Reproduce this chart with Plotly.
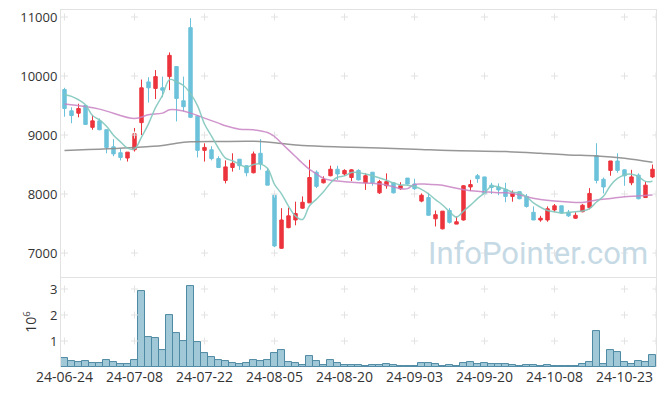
import plotly.graph_objects as go
from plotly.subplots import make_subplots
import pandas as pd

dates = ["24-06-24","24-06-25","24-06-26","24-06-27","24-06-28","24-07-01","24-07-02","24-07-03","24-07-04","24-07-05",
         "24-07-08","24-07-09","24-07-10","24-07-11","24-07-12","24-07-15","24-07-16","24-07-17","24-07-18","24-07-19",
         "24-07-22","24-07-23","24-07-24","24-07-25","24-07-26","24-07-29","24-07-30","24-07-31","24-08-01","24-08-02",
         "24-08-05","24-08-06","24-08-07","24-08-08","24-08-09","24-08-12","24-08-13","24-08-14","24-08-16","24-08-19",
         "24-08-20","24-08-21","24-08-22","24-08-23","24-08-26","24-08-27","24-08-28","24-08-29","24-08-30","24-09-02",
         "24-09-03","24-09-04","24-09-05","24-09-06","24-09-09","24-09-10","24-09-11","24-09-12","24-09-13","24-09-19",
         "24-09-20","24-09-23","24-09-24","24-09-25","24-09-26","24-09-27","24-09-30","24-10-02","24-10-04","24-10-07",
         "24-10-08","24-10-10","24-10-11","24-10-14","24-10-15","24-10-16","24-10-17","24-10-18","24-10-21","24-10-22",
         "24-10-23","24-10-24","24-10-25","24-10-28","24-10-29"]

opens = [9770,9410,9370,9500,9130,9240,9090,8800,8700,8610,
         8750,9210,9900,9790,9800,9990,10160,9580,10820,9320,
         8740,8750,8600,8230,8450,8590,8480,8360,8690,8390,
         7980,7080,7430,7560,7760,7850,8370,8190,8310,8420,
         8340,8280,8400,8190,8370,8020,8140,8190,8090,8270,
         8170,7880,7940,7580,7410,7720,7490,7560,8120,8310,
         8290,8150,8120,8080,7960,8040,7960,7690,7560,7560,
         7730,7800,7690,7590,7700,7770,8650,8250,8400,8560,
         8410,8190,8320,7940,8290]
highs = [9800,9470,9530,9500,9340,9280,9090,8930,8770,8710,
         9120,9940,9980,10100,9990,10400,10160,9990,10980,9340,
         8860,8810,8640,8570,8690,8590,8480,8720,8930,8440,
         7990,7760,7770,7870,7960,8580,8400,8300,8480,8480,
         8420,8420,8420,8350,8370,8240,8350,8190,8200,8270,
         8260,8010,8020,7720,7710,7760,7620,8150,8240,8340,
         8290,8190,8180,8190,8060,8040,8000,7790,7630,7790,
         7830,7800,7730,7690,7830,8100,8860,8280,8560,8690,
         8420,8410,8350,8210,8500]
lows = [9310,9200,9300,9170,9090,9080,8690,8640,8570,8550,
        8720,9000,9550,9610,9640,9760,9230,9400,9290,8620,
        8550,8570,8440,8180,8380,8410,8300,8350,8410,8150,
        7100,7070,7420,7470,7750,7850,8100,8180,8300,8240,
        8310,8220,8230,8070,8140,8000,8090,8010,8070,8160,
        8070,7860,7630,7450,7400,7500,7490,7550,8050,8190,
        7990,8000,7980,7860,7870,7910,7770,7560,7530,7530,
        7690,7670,7610,7580,7690,7740,8180,8010,8310,8360,
        8140,8150,7910,7940,8270]
closes = [9450,9330,9450,9180,9240,9090,8790,8680,8620,8710,
          9020,9800,9800,9990,9760,10350,9620,9480,9300,8740,
          8790,8600,8450,8460,8520,8480,8360,8680,8510,8150,
          7120,7560,7630,7670,7860,8280,8130,8250,8420,8340,
          8400,8410,8240,8310,8190,8210,8210,8020,8140,8170,
          8090,7980,7640,7650,7710,7520,7530,8140,8160,8260,
          8000,8110,8070,7960,8020,7920,7790,7560,7590,7750,
          7800,7680,7630,7640,7810,8010,8230,8120,8560,8400,
          8310,8290,7920,8150,8420]
volumes_k = [350,240,210,240,170,170,270,210,130,130,
             270,2920,1150,1120,650,2000,1310,1000,3120,960,
             540,380,280,240,170,120,170,270,240,270,
             540,650,210,170,90,420,240,90,270,150,
             60,60,60,30,60,60,100,60,30,30,
             30,140,140,100,30,60,30,140,180,100,
             140,100,100,100,60,30,60,60,30,60,
             30,30,30,30,100,180,1370,100,640,560,
             180,100,220,180,450]

# 5-day MA: first four values, rest from closes
ma5_head = [9683, 9655, 9598, 9513]
# 20-day MA and long MA (index, value)
ma20_idx = [0,5,10,12,14,15,16,18,20,22,23,25,27,29,30,31,32,33,34,35,36,37,38,40,42,44,46,48,49,50,52,54,56,58,60,62,64,66,68,70,72,74,76,78,80,82,84]
ma20_val = [9524,9439,9280,9343,9371,9428,9428,9371,9286,9201,9156,9099,9088,9043,8975,8861,8748,8635,8521,8419,8340,8266,8232,8210,8193,8181,8153,8091,8091,8164,8164,8150,8096,8057,8040,8023,8011,7955,7909,7881,7864,7858,7898,7926,7955,7966,7983]
malong_idx = [0,10,14,16,18,22,28,31,34,41,50,55,63,68,72,76,80,84]
malong_val = [8737,8788,8822,8861,8884,8890,8890,8856,8822,8793,8759,8737,8720,8691,8663,8646,8606,8538]

tick_every = 10
price_ticks = [7000, 8000, 9000, 10000, 11000]
vol_ticks = [1, 2, 3]

idx = list(range(len(dates)))
volumes = [v * 1000 for v in volumes_k]
ma5 = ma5_head + list(pd.Series(closes).rolling(5).mean().iloc[4:])

fig = make_subplots(rows=2, cols=1, shared_xaxes=True, vertical_spacing=0,
                    row_heights=[0.748, 0.252])

xt = idx[::tick_every]
grid_x = xt + [84.5]
cross = dict(symbol='cross-thin', size=5, line=dict(color='#e3e3e3', width=1))
fig.add_trace(go.Scatter(x=[x for x in grid_x for _ in price_ticks],
                         y=[y for _ in grid_x for y in price_ticks],
                         mode='markers', marker=cross, hoverinfo='skip'), row=1, col=1)
fig.add_trace(go.Scatter(x=[x for x in grid_x for _ in vol_ticks],
                         y=[y * 1e6 for _ in grid_x for y in vol_ticks],
                         mode='markers', marker=cross, hoverinfo='skip'), row=2, col=1)

fig.add_trace(go.Candlestick(x=idx, open=opens, high=highs, low=lows, close=closes,
                             increasing=dict(line=dict(color='#ec343d', width=1), fillcolor='#ec343d'),
                             decreasing=dict(line=dict(color='#6cc2da', width=1), fillcolor='#6cc2da'),
                             whiskerwidth=0), row=1, col=1)

fig.add_trace(go.Scatter(x=malong_idx, y=malong_val, mode='lines', line=dict(color='rgba(140,140,140,0.9)', width=1.5, shape='spline'),
                         hoverinfo='skip'), row=1, col=1)
fig.add_trace(go.Scatter(x=ma20_idx, y=ma20_val, mode='lines', line=dict(color='rgba(200,130,195,0.85)', width=1.5, shape='spline'),
                         hoverinfo='skip'), row=1, col=1)
fig.add_trace(go.Scatter(x=idx, y=ma5, mode='lines', line=dict(color='rgba(130,200,190,0.9)', width=1.5, shape='spline'),
                         hoverinfo='skip'), row=1, col=1)

fig.add_trace(go.Bar(x=idx, y=volumes, marker=dict(color='rgba(145,190,208,0.85)', line=dict(color='#4f8aa4', width=1))),
              row=2, col=1)

axis_line = '#e2e2e2'
fig.update_layout(
    width=665, height=396, margin=dict(l=61, r=9, t=10, b=29, autoexpand=False),
    paper_bgcolor='white', plot_bgcolor='white', showlegend=False, bargap=0,
    font=dict(family='Open Sans', size=13, color='#333'),
    annotations=[dict(text='InfoPointer.com', xref='paper', yref='paper', x=0.99, y=0.318,
                      xanchor='right', yanchor='middle', showarrow=False,
                      font=dict(family='Roboto', size=31, color='#c6dae5'))],
)
fig.update_xaxes(range=[-0.5, 84.5], showgrid=False, zeroline=False, rangeslider_visible=False,
                 showline=True, linecolor=axis_line, mirror=True, ticks='', automargin=False)
fig.update_xaxes(showticklabels=False, row=1, col=1)
fig.update_xaxes(tickvals=xt, ticktext=[dates[i] for i in xt], tickfont=dict(size=14, color='#333'),
                 showline=False, row=2, col=1)
fig.update_yaxes(range=[6593, 11119], tickvals=price_ticks, ticktext=[str(v) for v in price_ticks],
                 showgrid=False, zeroline=False, automargin=False,
                 showline=True, linecolor=axis_line, mirror=True, ticks='', row=1, col=1)
fig.update_yaxes(range=[0, 3.46e6], tickvals=[v * 1e6 for v in vol_ticks], ticktext=[str(v) for v in vol_ticks],
                 showgrid=False, zeroline=False, showline=True, linecolor=axis_line, mirror=True, ticks='',
                 automargin=False,
                 title=dict(text='10<sup>6</sup>', font=dict(size=14, color='#333'), standoff=10), row=2, col=1)

fig.write_html("out.html", config={'displayModeBar': False},
               post_script="document.body.style.margin='0';document.body.style.overflow='hidden';")
